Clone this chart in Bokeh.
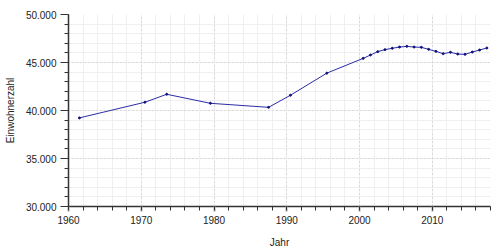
from bokeh.plotting import figure
from bokeh.models import FixedTicker, Range1d
from bokeh.embed import file_html
from bokeh.resources import INLINE

years = [1961.5, 1970.5, 1973.5, 1979.5, 1987.5, 1990.5, 1995.5, 2000.5, 2001.5,
         2002.5, 2003.5, 2004.5, 2005.5, 2006.5, 2007.5, 2008.5, 2009.5, 2010.5,
         2011.5, 2012.5, 2013.5, 2014.5, 2015.5, 2016.5, 2017.5]
population = [39230, 40860, 41690, 40750, 40330, 41590, 43890, 45430, 45780,
              46130, 46340, 46480, 46610, 46680, 46610, 46580, 46370, 46160,
              45920, 46060, 45880, 45850, 46090, 46300, 46510]

x_ticks = [1960, 1970, 1980, 1990, 2000, 2010]
x_minor = list(range(1960, 2019, 2))
y_ticks = [30000, 35000, 40000, 45000, 50000]
y_labels = ["30.000", "35.000", "40.000", "45.000", "50.000"]
y_minor = list(range(30000, 50001, 1000))

FONT = "Liberation Sans"

p = figure(width=500, height=250, output_backend="svg", toolbar_location=None,
           x_range=Range1d(1960, 2018), y_range=Range1d(30000, 50000),
           min_border_left=68, min_border_right=10, min_border_top=14,
           min_border_bottom=44)
p.outline_line_color = None
p.background_fill_color = "white"
p.border_fill_color = "white"

p.xaxis.ticker = FixedTicker(ticks=x_ticks, minor_ticks=x_minor)
p.yaxis.ticker = FixedTicker(ticks=y_ticks, minor_ticks=y_minor)
p.yaxis.major_label_overrides = {t: l for t, l in zip(y_ticks, y_labels)}

for ax in (p.xaxis, p.yaxis):
    ax.axis_line_color = "#333333"
    ax.axis_line_width = 1.5
    ax.major_label_text_font = FONT
    ax.major_label_text_font_size = "10px"
    ax.major_label_text_color = "#222222"
    ax.axis_label_text_font = FONT
    ax.axis_label_text_font_size = "10px"
    ax.axis_label_text_font_style = "normal"
    ax.axis_label_text_color = "#222222"
    ax.major_tick_in = 0
    ax.minor_tick_in = 0
    ax.minor_tick_out = 4
    ax.minor_tick_line_color = "#333333"
    ax.major_label_standoff = 4

p.xaxis.major_tick_out = 5
p.xaxis.major_tick_line_color = "#aaaaaa"
p.xaxis.major_tick_line_width = 2
p.yaxis.major_tick_out = 8
p.yaxis.major_tick_line_color = "#333333"
p.xaxis.axis_label = "Jahr"
p.yaxis.axis_label = "Einwohnerzahl"
p.xaxis.axis_label_standoff = 10
p.yaxis.axis_label_standoff = 7

for g in (p.xgrid, p.ygrid):
    g.grid_line_color = "#c4c4c4"
    g.grid_line_dash = "1 3"
    g.grid_line_width = 1
    g.minor_grid_line_color = "#efefef"
    g.minor_grid_line_width = 1

p.line(years, population, line_color="#2c2ca8", line_width=1)
p.scatter(years, population, size=2, fill_color="#10107a", line_color="#10107a")

open("out.html", "w").write(file_html(p, INLINE))
